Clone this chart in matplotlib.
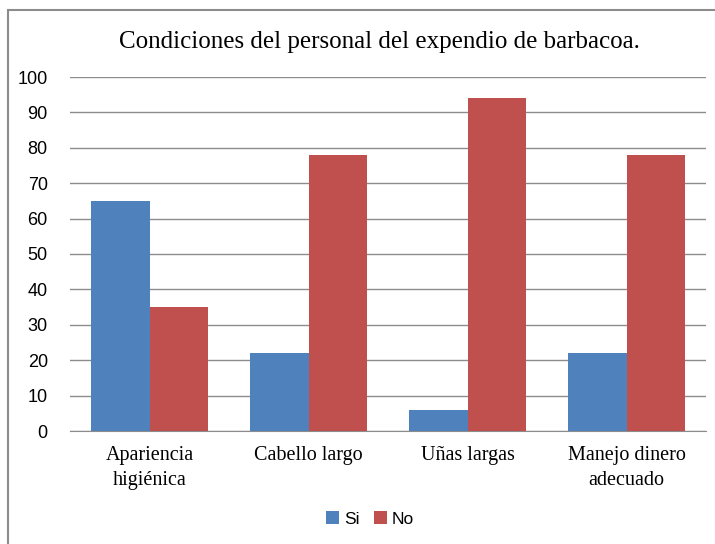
import matplotlib.pyplot as plt
import numpy as np
from matplotlib.patches import Rectangle

categories = ["Apariencia\nhigiénica", "Cabello largo", "Uñas largas", "Manejo dinero\nadecuado"]
si = [65, 22, 6, 22]
no = [35, 78, 94, 78]

fig = plt.figure(figsize=(7.15, 5.44), dpi=100)
fig.patches.append(Rectangle((8 / 715, -0.05), 1.2, 1 - 10 / 544 + 0.05,
                             transform=fig.transFigure, fill=False,
                             edgecolor="#8c8c8c", linewidth=1.5))
ax = fig.add_axes([70 / 715, 1 - 431 / 544, 636 / 715, 354 / 544])

x = np.arange(len(categories))
w = 0.365
ax.bar(x - w / 2, si, w, color="#4F81BD", label="Si", zorder=3)
ax.bar(x + w / 2, no, w, color="#C0504D", label="No", zorder=3)

ax.set_xlim(-0.5, len(categories) - 0.5)
ax.set_ylim(0, 100)
ax.set_yticks(range(0, 101, 10))
ax.yaxis.grid(True, color="#8c8c8c", linewidth=1)
ax.set_axisbelow(True)
for s in ["top", "right", "left"]:
    ax.spines[s].set_visible(False)
ax.spines["bottom"].set_color("#8c8c8c")
ax.tick_params(axis="both", length=0)
ax.tick_params(axis="y", pad=16)
ax.tick_params(axis="x", pad=11)
ax.set_yticklabels([str(v) for v in range(0, 101, 10)], family="Liberation Sans", fontsize=13)
ax.set_xticks(x)
ax.set_xticklabels(categories, family="Liberation Serif", fontsize=14.5, linespacing=1.4)

fig.text(379 / 715, 1 - 42 / 544, "Condiciones del personal del expendio de barbacoa.",
         ha="center", va="center", family="Liberation Serif", fontsize=18)

fig.legend(loc="center", bbox_to_anchor=(370 / 715, 1 - 519 / 544), ncol=2,
           frameon=False, prop={"family": "Liberation Sans", "size": 12.5},
           handlelength=0.75, handleheight=0.75, handletextpad=0.3, columnspacing=0.8)

fig.savefig("out.png", dpi=100)
